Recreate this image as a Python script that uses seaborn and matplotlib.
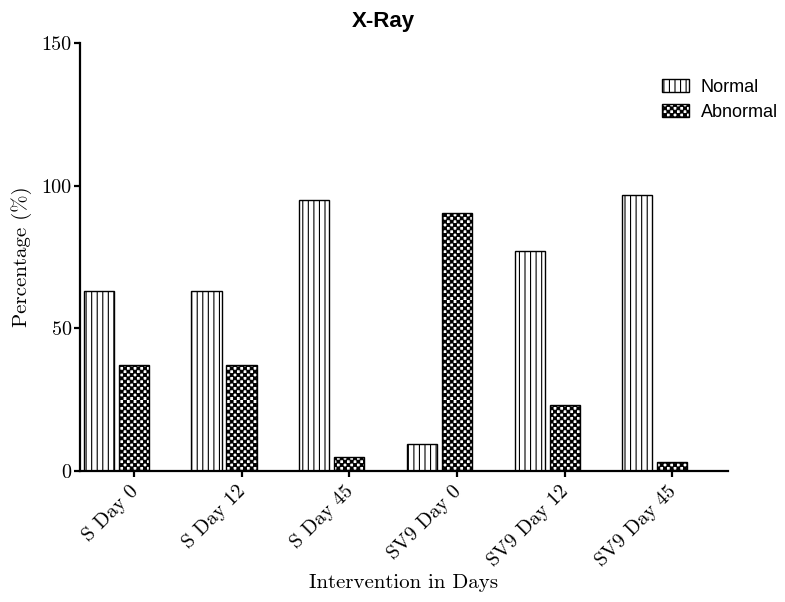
import warnings

import numpy as np
import pandas as pd
import matplotlib
matplotlib.use("Agg")
import matplotlib.pyplot as plt
import matplotlib.hatch as mhatch
import matplotlib.transforms as mtransforms
from matplotlib.patches import Patch
from matplotlib.path import Path
import seaborn as sns

# ---- data -------------------------------------------------------------
categories = ["S Day 0", "S Day 12", "S Day 45",
              "SV9 Day 0", "SV9 Day 12", "SV9 Day 45"]
normal = [63, 63, 95, 9.5, 77, 96.7]
abnormal = [37, 37, 5, 90.5, 23, 3.3]
series = ["Normal", "Abnormal"]
y_ticks = [0, 50, 100, 150]

title = "X-Ray"
x_label = "Intervention in Days"
y_label = "Percentage (%)"


# ---- checkerboard hatch (character 'c') -------------------------------
class CheckerHatch(mhatch.HatchPatternBase):
    """Filled squares laid out as a checkerboard in the hatch tile."""
    cells = 30
    inset = 0.003

    def __init__(self, hatch, density):
        self.active = "c" in hatch
        self.num_squares = (self.cells * self.cells) // 2 if self.active else 0
        self.num_vertices = self.num_squares * 5

    def set_vertices_and_codes(self, vertices, codes):
        n = self.cells
        s = 1.0 / n
        ii, jj = np.meshgrid(np.arange(n), np.arange(n), indexing="ij")
        mask = (ii + jj) % 2 == 0
        origins = np.stack([ii[mask] * s, jj[mask] * s], axis=1)
        a, b = self.inset, s - self.inset
        square = np.array([[a, a], [b, a], [b, b], [a, b], [a, a]])
        vertices[:] = (origins[:, None, :] + square[None]).reshape(-1, 2)
        unit = np.array([Path.MOVETO, Path.LINETO, Path.LINETO,
                         Path.LINETO, Path.CLOSEPOLY], dtype=Path.code_type)
        codes[:] = np.tile(unit, self.num_squares)


mhatch._hatch_types.append(CheckerHatch)
warnings.filterwarnings("ignore", message=".*hatch must consist.*")

HATCHES = {"Normal": "|||", "Abnormal": "c"}

# ---- style ------------------------------------------------------------
sns.set_style("ticks")
plt.rcParams.update({
    "hatch.linewidth": 0.8,
    "hatch.color": "black",
    "axes.linewidth": 1.6,
    "axes.edgecolor": "black",
    "axes.labelcolor": "black",
    "text.color": "black",
    "xtick.major.width": 1.6,
    "ytick.major.width": 1.6,
    "xtick.major.size": 4,
    "ytick.major.size": 4,
    "xtick.color": "black",
    "ytick.color": "black",
    "xtick.labelcolor": "black",
    "ytick.labelcolor": "black",
    "axes.formatter.use_mathtext": True,
})
plt.rcParams["font.family"] = ["cmr10", "DejaVu Serif"]

serif = {"family": ["cmr10", "DejaVu Serif"], "size": 14.5}
sans = ["Liberation Sans", "DejaVu Sans"]

# ---- long-form table --------------------------------------------------
df = pd.DataFrame({
    "Group": categories * 2,
    "Status": [series[0]] * len(categories) + [series[1]] * len(categories),
    "Percent": normal + abnormal,
})

fig = plt.figure(figsize=(7.85, 6.02), dpi=100)
ax = fig.add_axes([0.1019, 0.2176, 0.8255, 0.711])

sns.barplot(data=df, x="Group", y="Percent", hue="Status",
            hue_order=series, order=categories,
            width=0.65, gap=0.14, palette=["white", "white"],
            edgecolor="black", linewidth=1.0, saturation=1,
            legend=False, ax=ax)

for container, name in zip(ax.containers, series):
    for bar in container:
        bar.set_hatch(HATCHES[name])
        bar.set_facecolor("white")
        bar.set_edgecolor("black")

# ticks sit under the second bar of each pair
tick_pos = [p.get_x() + p.get_width() / 2 for p in ax.containers[1]]
ax.set_xticks(tick_pos)
ax.set_xticklabels(categories, rotation=45, ha="right",
                   rotation_mode="anchor", fontdict=serif, color="black")
ax.tick_params(axis="x", pad=4)
shift = mtransforms.ScaledTranslation(-5 / 100, 0, fig.dpi_scale_trans)
for lab in ax.get_xticklabels():
    lab.set_transform(lab.get_transform() + shift)

ax.set_ylim(0, 150)
ax.set_yticks(y_ticks)
ax.set_yticklabels([str(v) for v in y_ticks], fontdict=serif, color="black")
ax.tick_params(axis="y", pad=2)

ax.set_xlim(-0.3375, 5.68)
sns.despine(ax=ax)

ax.set_xlabel(x_label, fontdict={"family": serif["family"], "size": 15},
              color="black")
ax.xaxis.set_label_coords(0.5, -0.262)
ax.xaxis.label.set_va("center")
ax.set_ylabel(y_label, fontdict={"family": serif["family"], "size": 15},
              color="black")
ax.yaxis.set_label_coords(-0.0895, 0.5)
ax.yaxis.label.set_va("center")

fig.text(383 / 785, 1 - 22 / 602, title, ha="center", va="center",
         fontsize=16, fontweight="bold", family=sans, color="black")

handles = [Patch(facecolor="white", edgecolor="black", linewidth=1.0,
                 hatch=HATCHES[name], label=name) for name in series]
leg = fig.legend(handles=handles, loc="upper left",
                 bbox_to_anchor=(662 / 785, 1 - 79 / 602),
                 frameon=False, borderpad=0, borderaxespad=0,
                 handlelength=1.5, handleheight=0.7, handletextpad=0.65,
                 labelspacing=0.45, prop={"family": sans, "size": 13})
for txt in leg.get_texts():
    txt.set_color("black")

fig.savefig("out.png", dpi=100)
